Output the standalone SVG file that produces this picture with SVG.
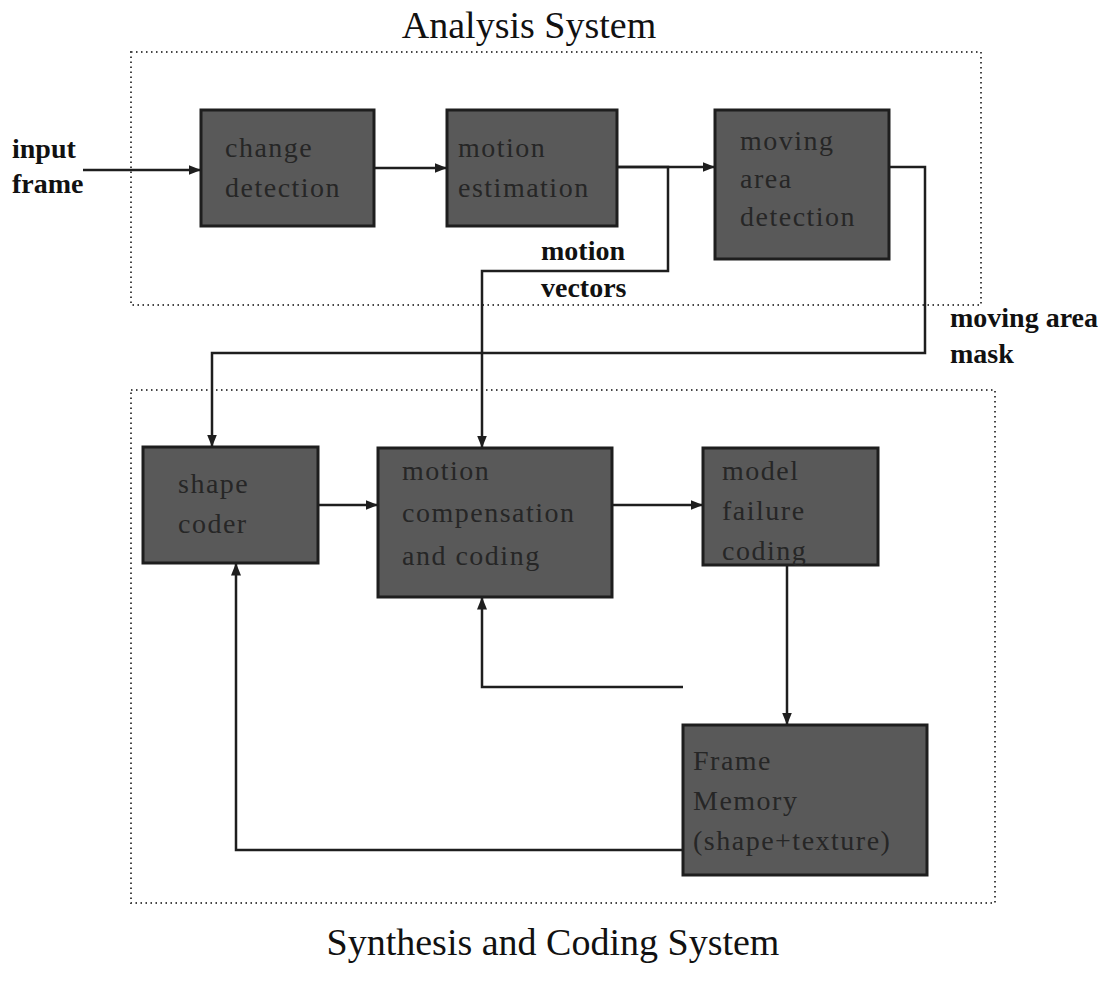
<svg xmlns="http://www.w3.org/2000/svg" width="1109" height="985" viewBox="0 0 1109 985">
  <style>
    .box { fill: #595959; stroke: #1e1e1e; stroke-width: 3; }
    .bt { font-family: "Liberation Serif", serif; font-size: 28px; fill: #262626; letter-spacing: 1.5px; }
    .lbl { font-family: "Liberation Serif", serif; font-size: 28px; font-weight: bold; fill: #111; }
    .title { font-family: "Liberation Serif", serif; font-size: 38px; fill: #111; }
    .sys { fill: none; stroke: #444; stroke-width: 2; stroke-dasharray: 1.5 3.5; }
    .wire { fill: none; stroke: #1e1e1e; stroke-width: 2.5; }
  </style>
  <defs>
    <marker id="ah" viewBox="0 0 10 10" refX="10" refY="5" markerWidth="5" markerHeight="5" orient="auto" markerUnits="strokeWidth">
      <path d="M0,1 L10,5 L0,9 Z" fill="#1e1e1e"/>
    </marker>
  </defs>
  <rect width="1109" height="985" fill="#fff"/>

  <!-- subsystem frames -->
  <g id="analysis-system">
    <rect class="sys" x="131" y="52" width="850" height="253"/>
    <text class="title" x="529" y="38" text-anchor="middle">Analysis System</text>
  </g>
  <g id="synthesis-system">
    <rect class="sys" x="131" y="390" width="864" height="513"/>
    <text class="title" x="553" y="955" text-anchor="middle">Synthesis and Coding System</text>
  </g>

  <!-- connectors -->
  <g id="connectors">
    <path class="wire" d="M83,170 H201" marker-end="url(#ah)"/>
    <path class="wire" d="M374,168 H447" marker-end="url(#ah)"/>
    <path class="wire" d="M617,167 H715" marker-end="url(#ah)"/>
    <path class="wire" d="M617,167 H668 V271 H482 V448" marker-end="url(#ah)"/>
    <path class="wire" d="M889,167 H925 V353 H212 V447" marker-end="url(#ah)"/>
    <path class="wire" d="M318,505 H378" marker-end="url(#ah)"/>
    <path class="wire" d="M612,505 H703" marker-end="url(#ah)"/>
    <path class="wire" d="M787,565 V725" marker-end="url(#ah)"/>
    <path class="wire" d="M683,687 H482 V597" marker-end="url(#ah)"/>
    <path class="wire" d="M683,850 H236 V563" marker-end="url(#ah)"/>
  </g>

  <g id="input-label">
    <text class="lbl" x="12" y="158">input</text>
    <text class="lbl" x="12" y="193">frame</text>
  </g>
  <g id="motion-vectors-label">
    <text class="lbl" x="541" y="260">motion</text>
    <text class="lbl" x="541" y="297">vectors</text>
  </g>
  <g id="mask-label">
    <text class="lbl" x="950" y="327">moving area</text>
    <text class="lbl" x="950" y="363">mask</text>
  </g>

  <!-- processing blocks -->
  <g id="change-detection">
    <rect class="box" x="201" y="110" width="173" height="116"/>
    <text class="bt" x="225" y="157">change</text>
    <text class="bt" x="225" y="197">detection</text>
  </g>
  <g id="motion-estimation">
    <rect class="box" x="447" y="110" width="170" height="116"/>
    <text class="bt" x="458" y="157">motion</text>
    <text class="bt" x="458" y="197">estimation</text>
  </g>
  <g id="moving-area-detection">
    <rect class="box" x="715" y="110" width="174" height="149"/>
    <text class="bt" x="740" y="150">moving</text>
    <text class="bt" x="740" y="188">area</text>
    <text class="bt" x="740" y="226">detection</text>
  </g>
  <g id="shape-coder">
    <rect class="box" x="143" y="447" width="175" height="116"/>
    <text class="bt" x="178" y="493">shape</text>
    <text class="bt" x="178" y="533">coder</text>
  </g>
  <g id="motion-compensation">
    <rect class="box" x="378" y="448" width="234" height="149"/>
    <text class="bt" x="402" y="480">motion</text>
    <text class="bt" x="402" y="522">compensation</text>
    <text class="bt" x="402" y="565">and coding</text>
  </g>
  <g id="model-failure-coding">
    <rect class="box" x="703" y="448" width="175" height="117"/>
    <text class="bt" x="722" y="480">model</text>
    <text class="bt" x="722" y="520">failure</text>
    <text class="bt" x="722" y="560">coding</text>
  </g>
  <g id="frame-memory">
    <rect class="box" x="683" y="725" width="244" height="150"/>
    <text class="bt" x="693" y="770">Frame</text>
    <text class="bt" x="693" y="810">Memory</text>
    <text class="bt" x="693" y="850">(shape+texture)</text>
  </g>
</svg>
